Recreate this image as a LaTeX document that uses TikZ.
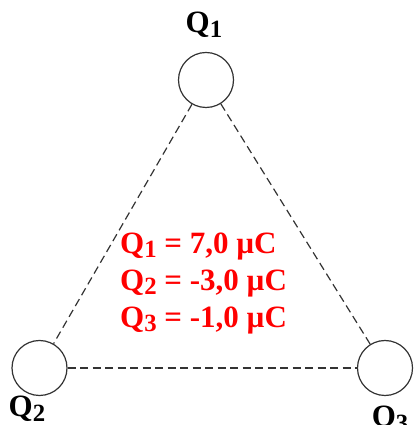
\documentclass[tikz,border=0pt]{standalone}
\usepackage{fontspec}
\setmainfont{Liberation Serif}
\usetikzlibrary{positioning}
\definecolor{Ink}{HTML}{333333}
\newcommand\lowsub[1]{\raisebox{-0.3ex}{\scalebox{0.8}{#1}}}

\begin{document}
\begin{tikzpicture}[x=1pt,y=1pt,
      charge/.style={circle,draw=Ink,line width=1.2pt,minimum size=55pt,inner sep=0pt},
      lbl/.style={font=\fontsize{31}{34}\selectfont\bfseries,inner sep=0pt},
      link/.style={Ink,line width=1.2pt,dash pattern=on 8pt off 4.5pt}]
    \useasboundingbox (0,0) rectangle (414,425);
    \node[charge] (q1) at (206,345) {};
    \node[charge] (q2) at (39.5,57) {};
    \node[charge] (q3) at (385,57) {};
    \node[lbl] (l1) at (204,400) {Q\lowsub{1}};
    \node[lbl] (l2) at (27,16) {Q\lowsub{2}};
    \node[lbl] (l3) at (390,6) {Q\lowsub{3}};
    \node[lbl,red,align=left,anchor=west,font=\fontsize{31}{37}\selectfont\bfseries] (vals) at (120,142)
      {Q\lowsub{1} = 7,0 µC\\Q\lowsub{2} = -3,0 µC\\Q\lowsub{3} = -1,0 µC};
    \foreach \u/\v in {q1/q2,q2/q3,q3/q1}\draw[link] (\u)--(\v);
  \end{tikzpicture}
\end{document}
